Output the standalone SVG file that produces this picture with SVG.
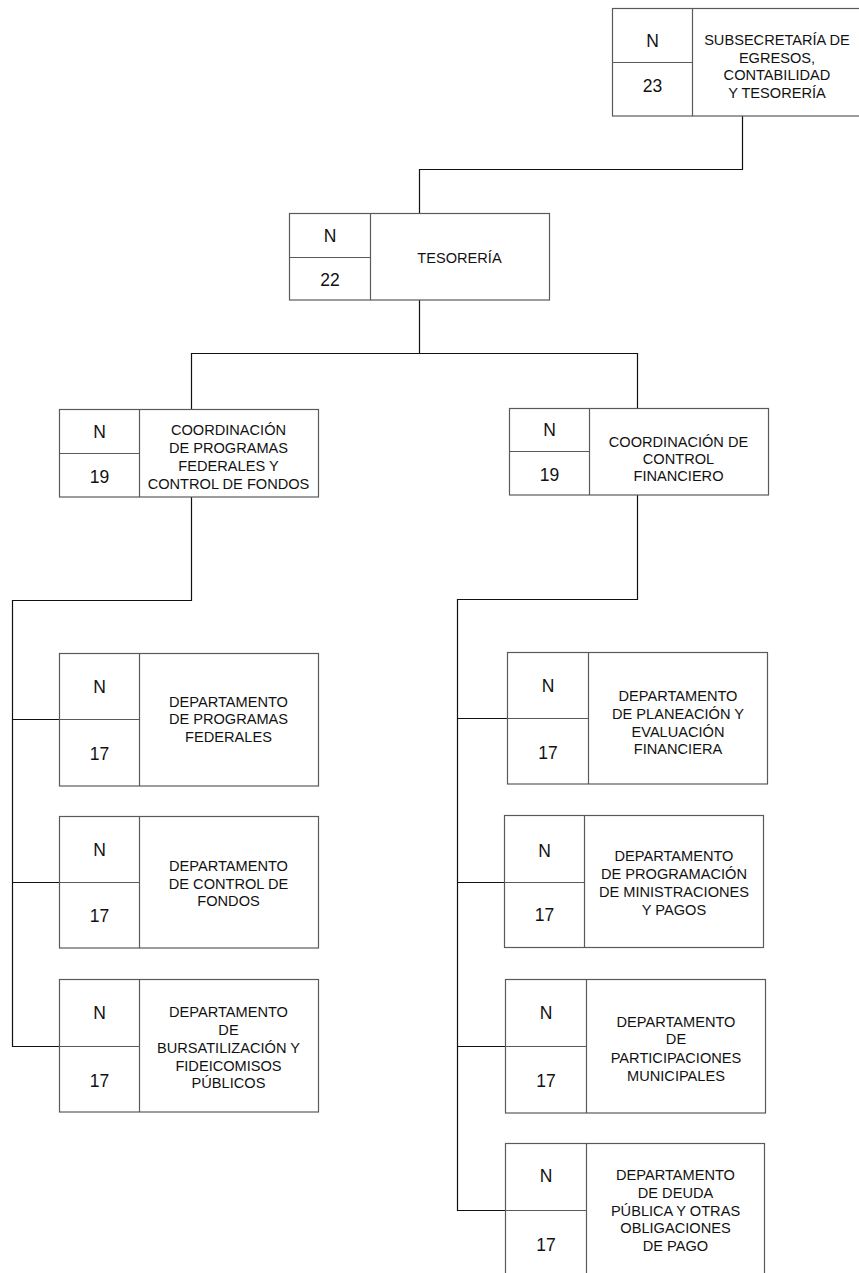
<svg xmlns="http://www.w3.org/2000/svg" width="859" height="1273" viewBox="0 0 859 1273">
<style>
.box{fill:#fff;stroke:#5a5a5a;stroke-width:1.2}
.div{stroke:#5a5a5a;stroke-width:1.2;fill:none}
.conn{stroke:#111;stroke-width:1.2;fill:none}
.num{font-family:"Liberation Sans",Arial,sans-serif;font-size:17.5px;fill:#111;text-anchor:middle}
.lbl{font-family:"Liberation Sans",Arial,sans-serif;font-size:14.6px;fill:#111;text-anchor:middle}
</style>
<rect width="859" height="1273" fill="#fff"/>
<g id="connectors">
<polyline class="conn" points="742.5,116 742.5,169.5 419.5,169.5 419.5,213"/>
<line class="conn" x1="419.5" y1="300" x2="419.5" y2="353.5"/>
<polyline class="conn" points="191.5,409 191.5,353.5 637.5,353.5 637.5,408"/>
<polyline class="conn" points="191.5,497 191.5,600.5 12.5,600.5 12.5,1046.5 59,1046.5"/>
<line class="conn" x1="12.5" y1="719.5" x2="59" y2="719.5"/>
<line class="conn" x1="12.5" y1="882.5" x2="59" y2="882.5"/>
<polyline class="conn" points="637.5,495 637.5,599.5 457.5,599.5 457.5,1210.5 505,1210.5"/>
<line class="conn" x1="457.5" y1="718.5" x2="507" y2="718.5"/>
<line class="conn" x1="457.5" y1="882.5" x2="504" y2="882.5"/>
<line class="conn" x1="457.5" y1="1046.5" x2="505" y2="1046.5"/>
</g>
<g id="n-subsecretaria">
<rect class="box" x="612.5" y="8.5" width="250" height="107.5"/>
<line class="div" x1="692.5" y1="8.5" x2="692.5" y2="116"/>
<line class="div" x1="612.5" y1="62.5" x2="692.5" y2="62.5"/>
<text class="num" x="652.5" y="47">N</text>
<text class="num" x="652.5" y="92">23</text>
<text class="lbl"><tspan x="777" y="45">SUBSECRETARÍA DE</tspan><tspan x="777" y="63">EGRESOS,</tspan><tspan x="777" y="80">CONTABILIDAD</tspan><tspan x="777" y="98">Y TESORERÍA</tspan></text>
</g>
<g id="n-tesoreria">
<rect class="box" x="289.5" y="213.5" width="260" height="86.5"/>
<line class="div" x1="370.5" y1="213.5" x2="370.5" y2="300"/>
<line class="div" x1="289.5" y1="257.5" x2="370.5" y2="257.5"/>
<text class="num" x="330" y="242">N</text>
<text class="num" x="330" y="286">22</text>
<text class="lbl" x="459.5" y="263">TESORERÍA</text>
</g>
<g id="n-coord-programas">
<rect class="box" x="59.5" y="409.5" width="259" height="87.5"/>
<line class="div" x1="139.5" y1="409.5" x2="139.5" y2="497"/>
<line class="div" x1="59.5" y1="453.5" x2="139.5" y2="453.5"/>
<text class="num" x="99.5" y="438">N</text>
<text class="num" x="99.5" y="483">19</text>
<text class="lbl"><tspan x="228.5" y="435">COORDINACIÓN</tspan><tspan x="228.5" y="453">DE PROGRAMAS</tspan><tspan x="228.5" y="471">FEDERALES Y</tspan><tspan x="228.5" y="489">CONTROL DE FONDOS</tspan></text>
</g>
<g id="n-coord-control">
<rect class="box" x="509.5" y="408.5" width="259" height="86.5"/>
<line class="div" x1="589.5" y1="408.5" x2="589.5" y2="495"/>
<line class="div" x1="509.5" y1="451.5" x2="589.5" y2="451.5"/>
<text class="num" x="549.5" y="436">N</text>
<text class="num" x="549.5" y="481">19</text>
<text class="lbl"><tspan x="678.5" y="447">COORDINACIÓN DE</tspan><tspan x="678.5" y="464">CONTROL</tspan><tspan x="678.5" y="481">FINANCIERO</tspan></text>
</g>
<g id="n-dep-programas">
<rect class="box" x="59.5" y="653.5" width="259" height="132.5"/>
<line class="div" x1="139.5" y1="653.5" x2="139.5" y2="786"/>
<line class="div" x1="59.5" y1="719.5" x2="139.5" y2="719.5"/>
<text class="num" x="99.5" y="693">N</text>
<text class="num" x="99.5" y="760">17</text>
<text class="lbl"><tspan x="228.5" y="707">DEPARTAMENTO</tspan><tspan x="228.5" y="724">DE PROGRAMAS</tspan><tspan x="228.5" y="742">FEDERALES</tspan></text>
</g>
<g id="n-dep-control-fondos">
<rect class="box" x="59.5" y="816.5" width="259" height="131.5"/>
<line class="div" x1="139.5" y1="816.5" x2="139.5" y2="948"/>
<line class="div" x1="59.5" y1="882.5" x2="139.5" y2="882.5"/>
<text class="num" x="99.5" y="856">N</text>
<text class="num" x="99.5" y="922">17</text>
<text class="lbl"><tspan x="228.5" y="871">DEPARTAMENTO</tspan><tspan x="228.5" y="889">DE CONTROL DE</tspan><tspan x="228.5" y="906">FONDOS</tspan></text>
</g>
<g id="n-dep-bursatilizacion">
<rect class="box" x="59.5" y="979.5" width="259" height="132.5"/>
<line class="div" x1="139.5" y1="979.5" x2="139.5" y2="1112"/>
<line class="div" x1="59.5" y1="1046.5" x2="139.5" y2="1046.5"/>
<text class="num" x="99.5" y="1019">N</text>
<text class="num" x="99.5" y="1087">17</text>
<text class="lbl"><tspan x="228.5" y="1017">DEPARTAMENTO</tspan><tspan x="228.5" y="1035">DE</tspan><tspan x="228.5" y="1053">BURSATILIZACIÓN Y</tspan><tspan x="228.5" y="1071">FIDEICOMISOS</tspan><tspan x="228.5" y="1088">PÚBLICOS</tspan></text>
</g>
<g id="n-dep-planeacion">
<rect class="box" x="507.5" y="652.5" width="260" height="131.5"/>
<line class="div" x1="588.5" y1="652.5" x2="588.5" y2="784"/>
<line class="div" x1="507.5" y1="718.5" x2="588.5" y2="718.5"/>
<text class="num" x="548" y="692">N</text>
<text class="num" x="548" y="759">17</text>
<text class="lbl"><tspan x="678" y="701">DEPARTAMENTO</tspan><tspan x="678" y="719">DE PLANEACIÓN Y</tspan><tspan x="678" y="737">EVALUACIÓN</tspan><tspan x="678" y="754">FINANCIERA</tspan></text>
</g>
<g id="n-dep-ministraciones">
<rect class="box" x="504.5" y="815.5" width="259" height="132"/>
<line class="div" x1="584.5" y1="815.5" x2="584.5" y2="947.5"/>
<line class="div" x1="504.5" y1="882.5" x2="584.5" y2="882.5"/>
<text class="num" x="544.5" y="857">N</text>
<text class="num" x="544.5" y="921">17</text>
<text class="lbl"><tspan x="674" y="861">DEPARTAMENTO</tspan><tspan x="674" y="879">DE PROGRAMACIÓN</tspan><tspan x="674" y="897">DE MINISTRACIONES</tspan><tspan x="674" y="915">Y PAGOS</tspan></text>
</g>
<g id="n-dep-participaciones">
<rect class="box" x="505.5" y="979.5" width="260" height="133.5"/>
<line class="div" x1="586.5" y1="979.5" x2="586.5" y2="1113"/>
<line class="div" x1="505.5" y1="1046.5" x2="586.5" y2="1046.5"/>
<text class="num" x="546" y="1019">N</text>
<text class="num" x="546" y="1087">17</text>
<text class="lbl"><tspan x="676" y="1027">DEPARTAMENTO</tspan><tspan x="676" y="1044">DE</tspan><tspan x="676" y="1063">PARTICIPACIONES</tspan><tspan x="676" y="1081">MUNICIPALES</tspan></text>
</g>
<g id="n-dep-deuda">
<rect class="box" x="505.5" y="1143.5" width="259" height="140"/>
<line class="div" x1="586.5" y1="1143.5" x2="586.5" y2="1283"/>
<line class="div" x1="505.5" y1="1210.5" x2="586.5" y2="1210.5"/>
<text class="num" x="546" y="1182">N</text>
<text class="num" x="546" y="1251">17</text>
<text class="lbl"><tspan x="675.5" y="1180">DEPARTAMENTO</tspan><tspan x="675.5" y="1198">DE DEUDA</tspan><tspan x="675.5" y="1216">PÚBLICA Y OTRAS</tspan><tspan x="675.5" y="1233">OBLIGACIONES</tspan><tspan x="675.5" y="1251">DE PAGO</tspan></text>
</g>
</svg>
